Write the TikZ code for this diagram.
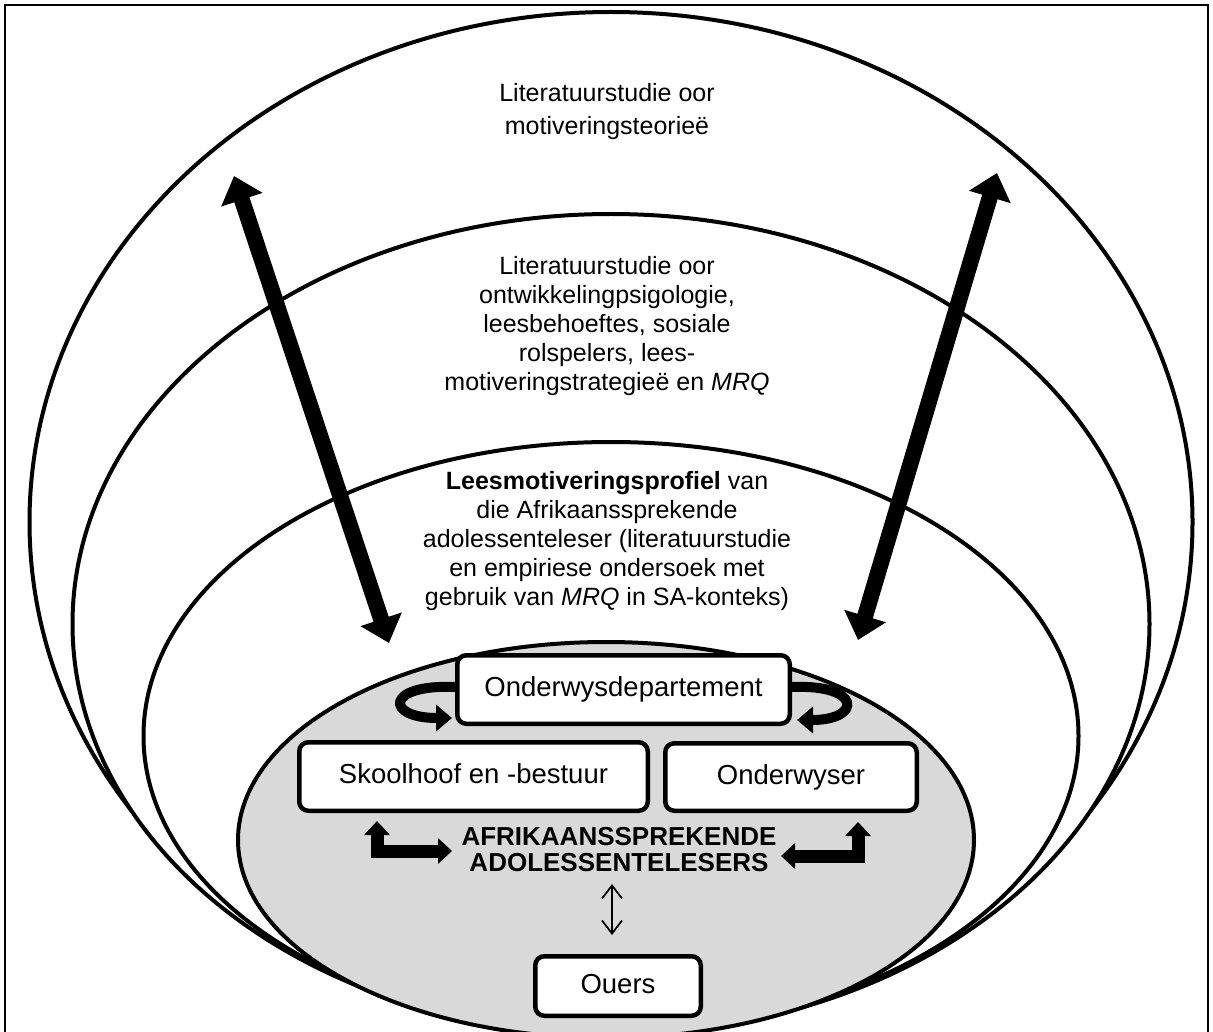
\documentclass[tikz,border=0pt]{standalone}
\usepackage{fontspec}
\setmainfont{Liberation Sans}
\usetikzlibrary{arrows.meta}
\definecolor{grayfill}{HTML}{D9D9D9}
\begin{document}
\begin{tikzpicture}[x=1pt,y=-1pt,
  ring/.style={draw=black, line width=4pt, fill=white},
  box/.style={draw=black, line width=4.5pt, fill=white, rounded corners=9pt, inner sep=0pt, text height=19.5pt, text depth=5.5pt, font=\fontsize{27.5}{30}\selectfont},
  lbl/.style={align=center, inner sep=0pt, font=\fontsize{25}{29}\selectfont},
  bigarrow/.style={line width=16pt, {Triangle[length=25pt,width=42pt]}-{Triangle[length=25pt,width=42pt]}},
  uturn/.style={line width=10pt, -{Triangle[length=16pt,width=26pt]}},
  elbow/.style={line width=13pt, line join=miter, {Triangle[length=14pt,width=25pt]}-{Triangle[length=14pt,width=25pt]}},
  thinarrow/.style={line width=1.8pt, {Straight Barb[length=13pt,width=20pt]}-{Straight Barb[length=13pt,width=20pt]}}
]
\useasboundingbox (0,0) rectangle (1213,1032);
\clip (0,0) rectangle (1213,1032);
\draw[line width=2pt] (5,1100) -- (5,5) -- (1208,5) -- (1208,1100);
% ellipses
\draw[ring] (611,522) ellipse [x radius=581.5pt, y radius=510pt];
\draw[ring] (611,624) ellipse [x radius=538.5pt, y radius=410pt];
\draw[ring] (611,736) ellipse [x radius=467.5pt, y radius=294pt];
\draw[ring, fill=grayfill] (606,840) ellipse [x radius=368pt, y radius=198pt];
% texts
\node[lbl, font=\fontsize{25}{33}\selectfont] (t1) at (607,112) {Literatuurstudie oor\\motiveringsteorieë};
\node[lbl] (t2) at (607,326) {Literatuurstudie oor\\ontwikkelingpsigologie,\\leesbehoeftes, sosiale\\rolspelers, lees-\\motiveringstrategieë en \textit{MRQ}};
\node[lbl] (t3) at (607,541) {\textbf{Leesmotiveringsprofiel} van\\die Afrikaanssprekende\\adolessenteleser (literatuurstudie\\en empiriese ondersoek met\\gebruik van \textit{MRQ} in SA-konteks)};
% long arrows
\coordinate (lt) at (234,176);
\coordinate (lb) at (389,643);
\coordinate (rt) at (997,173);
\coordinate (rb) at (858,640);
\draw[bigarrow] (lt) -- (lb);
\draw[bigarrow] (rt) -- (rb);
% boxes
\node[box, minimum width=332.5pt, minimum height=68.5pt] (dept) at (623.5,689.5) {Onderwysdepartement};
\node[box, minimum width=348.5pt, minimum height=68.5pt] (skool) at (473.5,776.5) {Skoolhoof en -bestuur};
\node[box, minimum width=251.5pt, minimum height=67.5pt] (onder) at (791,777) {Onderwyser};
\node[box, minimum width=165.5pt, minimum height=59.5pt] (ouers) at (618,986) {Ouers};
\node[align=center, inner sep=0pt, font=\fontsize{26}{26}\selectfont\bfseries] (afr) at (619,850) {AFRIKAANSSPREKENDE\\ADOLESSENTELESERS};
% u-turn arrows
\draw[uturn] (dept.west |- 0,687) .. controls (385,684) and (385,718) .. (452,718);
\draw[uturn] (dept.east |- 0,687) .. controls (862,684) and (862,720) .. (797,720);
% elbow arrows
\coordinate (el1) at (377,821);
\coordinate (el2) at (452,851);
\coordinate (er1) at (858,822);
\coordinate (er2) at (781,856);
\draw[elbow] (el1) -- (el1 |- el2) -- (el2);
\draw[elbow] (er1) -- (er1 |- er2) -- (er2);
% thin arrow
\coordinate (p1) at (612,884);
\coordinate (p2) at (612,935);
\draw[thinarrow] (p1) -- (p2);
\end{tikzpicture}
\end{document}
